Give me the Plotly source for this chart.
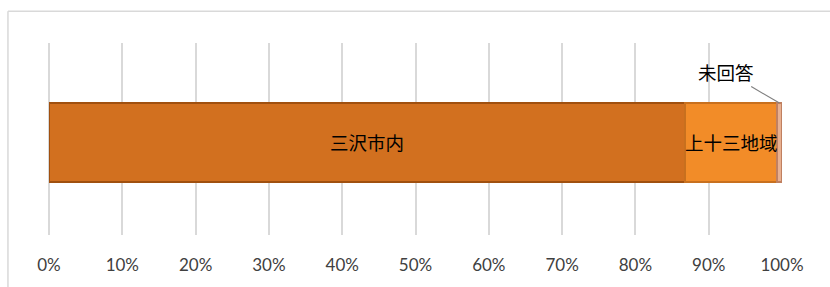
import plotly.graph_objects as go

categories = ["三沢市内", "上十三地域", "未回答"]
values = [86.8, 12.5, 0.7]
colors = ["#D2701F", "#F28C28", "#E8B090"]
line_colors = ["#A0500F", "#C8701E", "#C08060"]
tick_vals = [0, 10, 20, 30, 40, 50, 60, 70, 80, 90, 100]
tick_text = [f"{v}%" for v in tick_vals]

fig = go.Figure()
for name, v, c, lc in zip(categories, values, colors, line_colors):
    fig.add_trace(go.Bar(
        x=[v], y=[0], orientation="h", name=name,
        marker=dict(color=c, line=dict(color=lc, width=1.5)),
        width=0.41, showlegend=False, hoverinfo="x+name",
    ))

annotations = []
start = 0.0
jfont = dict(family="Noto Sans CJK JP", size=18.5, color="#000000")
for i, (name, v) in enumerate(zip(categories, values)):
    center = start + v / 2
    if i < 2:
        annotations.append(dict(x=center, y=0, text=name, showarrow=False,
                                font=jfont, xref="x", yref="y"))
    else:
        annotations.append(dict(x=center, y=0.205, text=name, showarrow=True,
                                arrowhead=0, arrowwidth=1.2, arrowcolor="#808080",
                                ax=-53, ay=-31, font=jfont, xref="x", yref="y"))
    start += v

fig.update_layout(
    width=830, height=287,
    margin=dict(l=49, r=48, t=43, b=49),
    paper_bgcolor="white", plot_bgcolor="white",
    barmode="stack",
    annotations=annotations,
    xaxis=dict(range=[0, 100], tickvals=tick_vals, ticktext=tick_text,
               showgrid=True, gridcolor="#D9D9D9", gridwidth=1.5,
               zeroline=True, zerolinecolor="#D9D9D9", zerolinewidth=1.5,
               showline=False, ticks="", ticklabelstandoff=18,
               tickfont=dict(family="Lato", size=17, color="#404040")),
    yaxis=dict(range=[-0.482, 0.518], showticklabels=False, showgrid=False,
               zeroline=False, showline=False),
    shapes=[
        dict(type="line", xref="paper", yref="paper", x0=-0.056, x1=-0.056,
             y0=-0.3, y1=1.165, line=dict(color="#D9D9D9", width=1.5)),
        dict(type="line", xref="paper", yref="paper", x0=-0.056, x1=1.1,
             y0=1.165, y1=1.165, line=dict(color="#D9D9D9", width=1.5)),
    ],
)

fig.write_html("out.html", config={"displayModeBar": False},
               post_script="document.body.style.margin='0';document.body.style.overflow='hidden';")
